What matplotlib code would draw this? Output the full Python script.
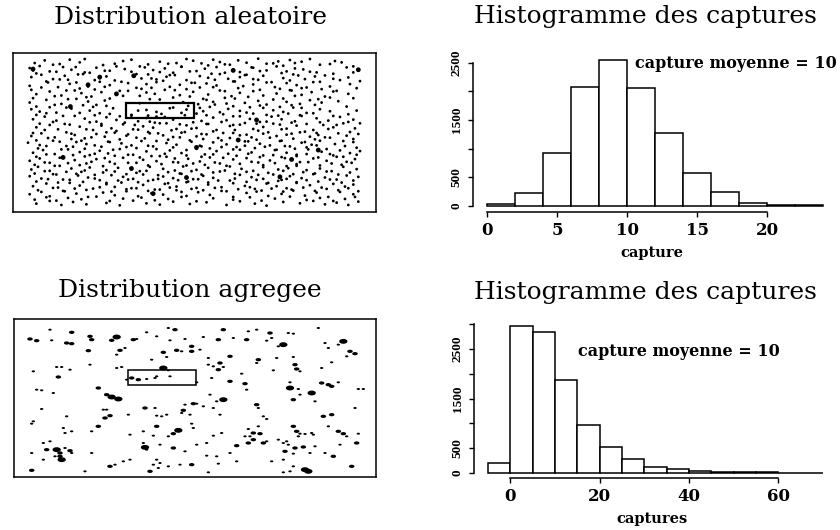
import numpy as np
import matplotlib
matplotlib.use("Agg")
import matplotlib.pyplot as plt
from matplotlib.patches import Rectangle
from matplotlib.path import Path

# ---------------------------------------------------------------------------
# Field maps: positions of individuals in a 1088 x 475 field (y measured down)
# ---------------------------------------------------------------------------
RANDOM_ROWS_X = [
    [105, 135, 160, 210, 240, 255, 345, 370, 395, 445, 480, 530, 560, 580, 605, 640, 660, 690, 715, 740, 775, 800, 835, 870, 885, 905, 930, 990, 1005, 1025],
    [120, 180, 228, 310, 420, 505, 545, 625, 675, 755, 820, 850, 960, 1060],
    [90, 100, 150, 190, 215, 255, 290, 315, 350, 375, 395, 435, 460, 495, 520, 545, 590, 615, 650, 700, 720, 760, 800, 830, 860, 885, 910, 950, 1040, 1075],
    [110, 170, 235, 270, 330, 410, 480, 510, 570, 635, 675, 740, 780, 845, 895, 930, 1000, 1060],
    [95, 125, 160, 195, 205, 250, 300, 320, 345, 400, 425, 445, 470, 500, 525, 560, 600, 625, 660, 685, 720, 735, 775, 790, 850, 880, 915, 945, 975, 1020, 1045],
    [140, 180, 230, 285, 365, 455, 490, 585, 645, 705, 760, 815, 870, 960, 1000, 1080],
    [90, 145, 175, 210, 265, 300, 330, 385, 410, 440, 470, 510, 540, 575, 600, 620, 650, 700, 730, 760, 800, 825, 860, 890, 905, 940, 990, 1050],
    [95, 125, 200, 240, 285, 315, 360, 425, 455, 525, 560, 640, 675, 715, 780, 840, 875, 920, 965, 1010, 1070],
    [110, 150, 185, 225, 245, 275, 305, 350, 385, 420, 440, 465, 495, 540, 580, 625, 660, 695, 720, 760, 790, 830, 870, 905, 935, 975, 1000, 1045],
    [100, 165, 205, 260, 330, 370, 480, 520, 570, 610, 675, 745, 850, 885, 955, 990, 1060],
    [90, 140, 185, 230, 265, 290, 315, 420, 450, 550, 595, 620, 640, 680, 705, 735, 775, 800, 820, 860, 900, 930, 965, 1015],
    [110, 165, 200, 250, 280, 320, 600, 645, 700, 750, 780, 840, 875, 905, 945, 1040],
    [95, 120, 150, 170, 215, 270, 300, 340, 440, 470, 520, 545, 560, 610, 630, 660, 685, 720, 760, 790, 820, 850, 880, 920, 960, 990, 1070],
    [415, 485, 510, 565],
    [110, 140, 190, 240, 285, 330, 360, 395, 445, 470, 590, 620, 670, 700, 740, 800, 835, 865, 900, 940, 1000, 1045],
    [100, 135, 170, 225, 255, 290, 320, 350, 395, 415, 440, 465, 495, 520, 555, 605, 640, 680, 720, 750, 780, 815, 845, 885, 905, 950, 985, 1020, 1060],
    [120, 160, 210, 270, 305, 375, 405, 450, 480, 540, 580, 625, 665, 700, 735, 770, 800, 840, 875, 920, 960, 1010, 1045, 1080],
    [110, 150, 175, 195, 240, 280, 305, 335, 370, 400, 430, 460, 500, 530, 560, 590, 620, 650, 690, 720, 760, 790, 820, 860, 890, 940, 970, 1000, 1030, 1065],
    [100, 135, 215, 260, 320, 350, 385, 415, 445, 475, 515, 545, 575, 605, 640, 670, 705, 740, 775, 805, 845, 875, 915, 950, 985, 1050],
    [95, 125, 165, 200, 225, 255, 290, 315, 345, 380, 410, 450, 490, 520, 555, 590, 620, 655, 700, 720, 755, 790, 830, 860, 900, 930, 955, 990, 1015, 1040, 1075],
    [110, 145, 180, 215, 245, 275, 330, 360, 435, 470, 505, 540, 575, 610, 665, 690, 735, 770, 810, 845, 880, 915, 945, 975, 1030, 1060],
    [85, 120, 160, 200, 230, 260, 305, 325, 365, 395, 425, 460, 500, 530, 570, 600, 640, 680, 710, 745, 780, 810, 840, 870, 905, 935, 960, 1005, 1035, 1060],
    [115, 140, 185, 220, 255, 285, 340, 380, 410, 445, 470, 520, 560, 605, 630, 665, 700, 735, 765, 795, 830, 855, 885, 920, 950, 980, 1070],
    [100, 130, 165, 205, 240, 270, 300, 325, 360, 400, 440, 480, 510, 545, 590, 615, 650, 685, 720, 755, 790, 825, 860, 890, 925, 965, 990, 1020, 1050, 1080],
    [110, 140, 180, 220, 255, 285, 315, 345, 385, 420, 455, 495, 525, 560, 605, 640, 670, 710, 745, 780, 820, 855, 890, 920, 955, 1000, 1030, 1070],
    [90, 120, 150, 190, 225, 260, 290, 330, 370, 410, 430, 470, 500, 535, 565, 600, 630, 660, 700, 740, 775, 810, 845, 875, 900, 940, 980, 1010, 1040, 1065],
    [105, 135, 165, 205, 240, 275, 310, 345, 385, 445, 485, 520, 550, 580, 615, 645, 680, 720, 755, 790, 825, 860, 890, 925, 960, 995, 1025, 1055],
    [95, 115, 150, 180, 215, 245, 270, 320, 355, 395, 420, 450, 490, 525, 560, 590, 625, 660, 690, 725, 760, 790, 835, 865, 890, 920, 960, 995, 1030, 1070],
    [105, 135, 170, 200, 230, 255, 285, 310, 345, 380, 410, 440, 475, 505, 540, 575, 605, 640, 675, 705, 740, 775, 805, 850, 880, 910, 945, 980, 1015, 1050],
    [90, 125, 160, 190, 235, 265, 300, 335, 370, 400, 430, 460, 490, 520, 545, 580, 610, 640, 690, 720, 755, 790, 820, 845, 870, 905, 940, 975, 1010, 1040, 1075],
    [110, 145, 175, 210, 250, 285, 320, 355, 385, 415, 445, 475, 505, 535, 565, 595, 625, 655, 705, 740, 770, 805, 835, 860, 890, 920, 955, 990, 1025, 1060],
    [100, 140, 175, 210, 240, 280, 320, 345, 365, 395, 430, 465, 495, 530, 560, 590, 625, 665, 700, 735, 765, 800, 830, 860, 890, 930, 965, 1000, 1035, 1060],
    [115, 160, 195, 225, 260, 300, 335, 380, 410, 445, 480, 510, 545, 575, 610, 645, 680, 715, 750, 785, 815, 850, 875, 910, 945, 980, 1015, 1045, 1075],
    [90, 125, 150, 190, 230, 265, 310, 345, 380, 415, 455, 490, 530, 560, 595, 630, 665, 700, 740, 770, 805, 845, 880, 915, 950, 985, 1020, 1060],
    [105, 140, 170, 205, 245, 290, 330, 370, 425, 465, 505, 545, 590, 640, 700, 750, 785, 825, 870, 920, 960, 1000, 1035, 1065],
    [110, 150, 185, 220, 260, 320, 360, 400, 440, 480, 520, 570, 620, 680, 720, 765, 800, 850, 900, 940, 975, 1010, 1045, 1075],
]
RANDOM_ROWS_Y = [
    [70, 62, 75, 60, 68, 58, 72, 64, 60, 74, 66, 70, 58, 63, 71, 60, 67, 75, 62, 69, 57, 72, 65, 61, 70, 66, 58, 73, 64, 68],
    [79, 73, 82, 76, 80, 72, 81, 77, 74, 83, 71, 78, 75, 80],
    [85, 92, 95, 82, 90, 98, 84, 93, 80, 88, 96, 83, 91, 86, 99, 81, 94, 87, 82, 90, 97, 84, 92, 80, 95, 86, 89, 98, 83, 91],
    [101, 96, 104, 99, 93, 103, 97, 106, 95, 102, 99, 105, 94, 100, 107, 96, 102, 98],
    [112, 105, 118, 108, 120, 103, 115, 110, 122, 107, 116, 104, 119, 111, 106, 121, 109, 114, 103, 117, 112, 106, 120, 108, 115, 104, 118, 110, 107, 121, 113],
    [125, 119, 128, 121, 126, 116, 123, 129, 120, 125, 118, 127, 122, 126, 117, 124],
    [138, 128, 142, 132, 140, 126, 136, 130, 144, 133, 127, 141, 135, 129, 143, 131, 137, 125, 139, 134, 128, 142, 130, 136, 145, 127, 140, 133],
    [150, 143, 152, 146, 149, 141, 153, 147, 144, 151, 148, 142, 154, 145, 150, 147, 152, 143, 148, 153, 145],
    [163, 155, 167, 152, 160, 170, 157, 165, 153, 168, 158, 162, 150, 166, 156, 164, 152, 169, 159, 154, 167, 161, 151, 165, 157, 170, 155, 162],
    [175, 169, 178, 172, 176, 168, 179, 173, 170, 177, 174, 171, 176, 168, 178, 173, 175],
    [188, 180, 192, 177, 185, 195, 182, 190, 178, 187, 193, 180, 186, 191, 176, 189, 183, 194, 179, 186, 192, 181, 188, 184],
    [200, 195, 203, 196, 201, 198, 204, 194, 199, 202, 197, 201, 196, 204, 195, 200],
    [208, 215, 202, 218, 206, 212, 220, 205, 210, 216, 203, 219, 209, 214, 201, 217, 207, 213, 221, 204, 211, 216, 203, 219, 208, 214, 212],
    [212, 222, 205, 198],
    [225, 220, 228, 219, 226, 222, 229, 225, 227, 230, 221, 226, 223, 229, 218, 225, 227, 221, 226, 220, 228, 223],
    [238, 230, 242, 228, 236, 245, 232, 240, 227, 244, 234, 248, 231, 239, 226, 243, 233, 241, 229, 237, 246, 230, 238, 244, 228, 235, 242, 231, 239],
    [251, 246, 254, 247, 252, 248, 255, 245, 250, 253, 247, 252, 246, 255, 249, 251, 245, 254, 248, 252, 247, 255, 246, 250],
    [262, 255, 268, 252, 260, 270, 257, 265, 253, 268, 259, 263, 250, 267, 256, 264, 252, 270, 258, 254, 267, 261, 251, 266, 257, 270, 255, 262, 250, 265],
    [279, 270, 281, 268, 277, 273, 283, 269, 276, 280, 271, 278, 266, 282, 274, 279, 270, 284, 272, 277, 268, 281, 275, 279, 267, 276],
    [288, 280, 292, 277, 285, 295, 282, 290, 278, 287, 293, 280, 286, 291, 276, 289, 283, 294, 279, 286, 292, 281, 288, 284, 277, 290, 285, 293, 280, 287, 282],
    [301, 294, 305, 297, 302, 292, 306, 298, 295, 303, 299, 292, 305, 297, 301, 294, 304, 299, 293, 302, 296, 306, 298, 292, 303, 297],
    [308, 315, 302, 318, 306, 312, 320, 305, 310, 316, 303, 319, 309, 314, 301, 317, 307, 313, 321, 304, 311, 316, 303, 319, 308, 314, 302, 312, 318, 306],
    [325, 318, 328, 320, 326, 316, 329, 321, 324, 317, 327, 322, 330, 319, 325, 321, 328, 317, 324, 320, 329, 318, 326, 322, 316, 327, 323],
    [338, 330, 342, 328, 336, 345, 332, 340, 327, 344, 334, 348, 331, 339, 326, 343, 333, 341, 329, 337, 346, 330, 338, 344, 328, 335, 342, 331, 339, 333],
    [350, 343, 353, 345, 349, 341, 354, 347, 344, 352, 348, 341, 355, 346, 350, 343, 353, 347, 341, 351, 345, 354, 348, 342, 352, 346, 350, 344],
    [362, 355, 368, 352, 360, 370, 357, 365, 353, 368, 359, 363, 350, 367, 356, 364, 352, 370, 358, 354, 367, 361, 351, 358, 366, 355, 362, 350, 365, 357],
    [374, 367, 377, 369, 375, 365, 378, 371, 368, 376, 372, 366, 379, 370, 374, 367, 377, 371, 365, 375, 369, 378, 372, 366, 376, 370, 374, 368],
    [388, 380, 392, 377, 385, 395, 382, 390, 383, 387, 393, 380, 386, 391, 376, 389, 383, 394, 379, 386, 392, 381, 388, 384, 377, 390, 385, 393, 380, 387],
    [400, 393, 403, 395, 401, 391, 404, 397, 394, 402, 398, 392, 405, 396, 400, 393, 403, 397, 391, 401, 395, 404, 398, 392, 402, 396, 400, 394, 403, 397],
    [408, 415, 402, 418, 406, 412, 420, 405, 410, 416, 403, 419, 409, 414, 401, 417, 407, 413, 421, 404, 411, 416, 403, 419, 408, 414, 402, 412, 418, 406, 410],
    [424, 417, 427, 419, 425, 415, 428, 421, 418, 426, 422, 416, 429, 420, 424, 417, 427, 421, 415, 425, 419, 428, 422, 416, 426, 420, 424, 418, 427, 421],
    [438, 430, 442, 428, 436, 445, 432, 440, 427, 444, 434, 448, 431, 439, 426, 443, 433, 441, 429, 437, 446, 430, 438, 444, 428, 435, 442, 431, 439, 433],
    [450, 443, 453, 445, 449, 441, 454, 447, 444, 452, 448, 442, 455, 446, 450, 443, 453, 447, 441, 451, 445, 454, 448, 442, 452, 446, 450, 444, 453],
    [462, 455, 468, 452, 460, 470, 457, 465, 453, 468, 459, 463, 450, 467, 456, 464, 452, 470, 458, 454, 467, 461, 451, 466, 457, 470, 455, 462],
    [478, 471, 481, 473, 477, 469, 482, 475, 472, 480, 476, 470, 483, 474, 478, 471, 481, 475, 469, 479, 473, 482, 476, 470],
    [490, 482, 494, 485, 492, 488, 495, 481, 489, 493, 484, 491, 486, 494, 483, 490, 496, 485, 489, 482, 492, 487, 494, 484],
]
# a few larger specks in the random field
RANDOM_SPECKS = [(100, 88), (300, 112), (265, 135), (402, 108), (700, 92), (190, 352),
                 (875, 358), (395, 385), (350, 162), (460, 460), (1075, 90), (590, 322),
                 (770, 240), (955, 330), (715, 300), (840, 410), (560, 412), (212, 200)]
RANDOM_FIELD_X = (40, 1128)
RANDOM_FIELD_Y = (40, 515)
RANDOM_QUADRAT = (380, 583, 188, 235)   # x0, x1, y0, y1

# aggregated individuals: (x, y, clump size class)
AGGREGATED = [
    (150, 150, 1), (90, 178, 2), (110, 183, 2), (155, 182, 1), (215, 158, 2), (200, 190, 2), (215, 192, 2), (270, 170, 2), (275, 180, 2), (265, 213, 2),
    (350, 172, 3), (335, 182, 2), (360, 212, 2), (375, 205, 1), (350, 225, 1), (400, 180, 2), (410, 178, 1), (440, 158, 1), (470, 170, 1), (505, 145, 1),
    (525, 150, 2), (510, 182, 1), (490, 218, 2), (530, 212, 2), (545, 215, 1), (575, 200, 2), (575, 215, 2), (600, 210, 1), (555, 178, 1), (610, 172, 1),
    (670, 150, 2), (655, 180, 2), (700, 175, 1), (740, 180, 2), (745, 155, 1), (770, 150, 1), (810, 160, 2), (815, 175, 1), (865, 160, 1), (880, 162, 1),
    (800, 183, 1), (850, 195, 3), (835, 200, 1), (955, 145, 1), (975, 190, 1), (1030, 185, 3), (1015, 195, 1), (985, 205, 1), (1050, 215, 2), (1065, 222, 2),
    (1040, 230, 1),
    (100, 275, 1), (170, 262, 1), (185, 262, 1), (210, 270, 1), (270, 255, 1), (175, 292, 2), (350, 265, 1), (365, 262, 1), (455, 240, 1), (500, 232, 1),
    (490, 265, 3), (505, 272, 1), (510, 290, 1), (625, 235, 1), (625, 255, 1), (660, 250, 2), (690, 230, 2), (640, 260, 1), (655, 270, 2), (670, 262, 1),
    (725, 282, 1), (775, 240, 2), (770, 250, 1), (820, 272, 1), (830, 235, 1), (880, 232, 1), (885, 255, 2), (890, 268, 2), (900, 275, 1), (965, 265, 1), (995, 248, 1),
    (395, 295, 2), (415, 300, 2), (440, 298, 1), (465, 295, 1), (470, 290, 1), (380, 300, 1),
    (110, 330, 1), (125, 332, 1), (160, 340, 1), (295, 325, 2), (320, 345, 2), (335, 352, 3), (355, 358, 3),
    (590, 308, 1), (635, 295, 1), (690, 305, 2), (735, 312, 2), (740, 330, 1),
    (870, 325, 3), (895, 328, 1), (935, 340, 3), (900, 345, 1), (870, 308, 1), (965, 310, 2), (985, 315, 2), (995, 320, 2), (1015, 308, 1), (1075, 328, 1), (1090, 328, 1), (880, 360, 2), (945, 365, 1),
    (670, 360, 3), (650, 365, 1), (630, 345, 1), (580, 372, 2), (555, 375, 1), (610, 380, 1),
    (125, 388, 1), (200, 410, 1), (100, 425, 1), (95, 432, 1), (310, 390, 1), (320, 390, 1), (330, 408, 2), (315, 415, 2),
    (385, 405, 1), (435, 385, 2), (465, 385, 1), (470, 408, 1), (485, 410, 1), (500, 405, 1), (550, 392, 2), (545, 400, 1), (570, 405, 1), (590, 372, 1),
    (640, 385, 1), (660, 405, 1), (770, 375, 2), (775, 385, 1), (790, 410, 1), (800, 418, 1), (970, 410, 2), (995, 405, 2), (1065, 385, 1),
    (295, 440, 2), (190, 445, 1), (470, 440, 2), (535, 452, 3), (575, 432, 1), (580, 445, 1),
    (130, 490, 1), (150, 485, 1), (195, 460, 1), (215, 455, 1), (275, 455, 1), (390, 465, 1), (430, 455, 1), (460, 468, 1), (505, 470, 1), (520, 462, 2),
    (640, 468, 1), (665, 460, 1), (745, 448, 1), (775, 440, 1), (760, 460, 2), (780, 462, 2), (735, 470, 1), (750, 470, 1),
    (880, 440, 2), (890, 455, 2), (900, 462, 1), (895, 470, 1), (915, 463, 1), (935, 460, 1), (940, 465, 1),
    (985, 440, 1), (1015, 455, 2), (1030, 462, 2), (1040, 470, 1), (1075, 462, 1),
    (140, 510, 2), (170, 510, 3), (180, 520, 2), (195, 505, 1), (210, 513, 2), (215, 520, 1),
    (430, 490, 1), (435, 503, 3), (440, 510, 1), (480, 495, 1), (520, 505, 2), (555, 515, 1), (590, 495, 1), (620, 490, 1),
    (710, 498, 2), (745, 490, 2), (760, 480, 2), (790, 490, 2), (800, 485, 1),
    (835, 480, 1), (850, 490, 1), (860, 485, 1), (865, 495, 1), (855, 515, 2), (885, 505, 2), (910, 502, 2), (945, 500, 1), (975, 520, 1), (1000, 530, 2), (1020, 495, 1), (1070, 490, 2),
    (95, 520, 1), (130, 540, 1), (165, 530, 1), (180, 530, 2), (185, 540, 3), (275, 520, 1), (370, 545, 1), (390, 540, 1),
    (470, 540, 1), (460, 555, 1), (480, 550, 1), (620, 528, 1), (650, 530, 1), (690, 520, 1), (850, 540, 1), (880, 522, 1), (930, 520, 1),
    (95, 572, 2), (255, 575, 1), (330, 560, 2), (345, 555, 1), (450, 575, 2), (475, 565, 1), (505, 560, 1), (540, 555, 1), (575, 555, 2), (625, 578, 1), (655, 552, 1), (710, 545, 1),
    (850, 578, 1), (870, 575, 1), (880, 560, 1), (915, 570, 3), (925, 575, 3), (1055, 560, 2), (815, 545, 1),
]
AGG_FIELD_X = (42, 1128)
AGG_FIELD_Y = (118, 592)
AGG_QUADRAT = (385, 587, 270, 316)

# ---------------------------------------------------------------------------
# Catch histograms
# ---------------------------------------------------------------------------
ALEA_EDGES = [0, 2, 4, 6, 8, 10, 12, 14, 16, 18, 20, 22, 24]
ALEA_COUNTS = [30, 227, 916, 2075, 2540, 2065, 1266, 566, 240, 47, 12, 4]
ALEA_XTICKS = [0, 5, 10, 15, 20]
ALEA_YTICKS = [0, 500, 1000, 1500, 2000, 2500]
ALEA_YLABELS = ["0", "500", "", "1500", "", "2500"]

AGR_EDGES = [-5, 0, 5, 10, 15, 20, 25, 30, 35, 40, 45, 50, 55, 60, 65, 70]
AGR_COUNTS = [190, 2970, 2840, 1876, 965, 526, 271, 121, 69, 35, 22, 15, 7, 4, 2]
AGR_XTICKS = [0, 20, 40, 60]
AGR_YTICKS = [0, 500, 1000, 1500, 2000, 2500, 3000]
AGR_YLABELS = ["0", "500", "", "1500", "", "2500", ""]

MEAN_NOTE = "capture moyenne = 10"

W, H = 840, 530
SERIF = "DejaVu Serif"

# flattened speck marker (clumps are wider than tall)
_t = np.linspace(0, 2 * np.pi, 25)
SPECK = Path(np.column_stack([0.85 * np.cos(_t), 0.5 * np.sin(_t)]), closed=True)


def rect(left, top, right, bottom):
    """Axes rectangle from pixel edges (origin at the top-left)."""
    return [left / W, 1 - bottom / H, (right - left) / W, (bottom - top) / H]


fig = plt.figure(figsize=(W / 100, H / 100), dpi=100)
fig.patch.set_facecolor("white")


def field_panel(ax, xs, ys, sizes, fx, fy, quadrat, qlw, marker):
    ax.scatter(xs, ys, s=sizes, c="black", marker=marker, linewidths=0)
    x0, x1, y0, y1 = quadrat
    ax.add_patch(Rectangle((x0, y0), x1 - x0, y1 - y0, fill=False,
                           edgecolor="black", linewidth=qlw))
    ax.set_xlim(*fx)
    ax.set_ylim(fy[1], fy[0])
    ax.set_xticks([])
    ax.set_yticks([])
    for sp in ax.spines.values():
        sp.set_linewidth(1.1)


# random field
ax1 = fig.add_axes(rect(13, 53, 376, 212))
rx = [x for row in RANDOM_ROWS_X for x in row]
ry = [y for row in RANDOM_ROWS_Y for y in row]
sx = [p[0] for p in RANDOM_SPECKS]
sy = [p[1] for p in RANDOM_SPECKS]
field_panel(ax1, rx + sx, ry + sy, [4] * len(rx) + [12] * len(sx),
            RANDOM_FIELD_X, RANDOM_FIELD_Y, RANDOM_QUADRAT, 1.6, "o")

# aggregated field
ax3 = fig.add_axes(rect(14, 319, 376, 477))
size_of = {1: 6, 2: 16, 3: 36}
field_panel(ax3, [p[0] for p in AGGREGATED], [p[1] for p in AGGREGATED],
            [size_of[p[2]] for p in AGGREGATED],
            AGG_FIELD_X, AGG_FIELD_Y, AGG_QUADRAT, 1.1, SPECK)


def hist_panel(ax, edges, counts, xticks, yticks, ylabels, xlim, ylim,
               xlabel, note_xy):
    ax.bar(edges[:-1], counts, width=np.diff(edges), align="edge",
           facecolor="white", edgecolor="black", linewidth=1.1)
    ax.set_xlim(*xlim)
    ax.set_ylim(*ylim)
    for side in ("top", "right"):
        ax.spines[side].set_visible(False)
    ax.spines["left"].set_bounds(yticks[0], yticks[-1])
    ax.spines["bottom"].set_bounds(xticks[0], xticks[-1])
    for side in ("left", "bottom"):
        ax.spines[side].set_linewidth(1.1)
    ax.set_xticks(xticks)
    ax.set_xticklabels([str(t) for t in xticks],
                       fontfamily=SERIF, fontweight="bold", fontsize=12)
    ax.set_yticks(yticks)
    ax.set_yticklabels(ylabels, fontfamily="Liberation Serif",
                       fontweight="bold", fontsize=9.5, rotation=90,
                       va="center")
    ax.tick_params(axis="both", direction="out", length=3.5, width=1,
                   pad=4)
    ax.set_xlabel(xlabel, fontfamily=SERIF, fontweight="bold",
                  fontsize=10.5, labelpad=5)
    ax.text(note_xy[0], note_xy[1], MEAN_NOTE, fontfamily=SERIF,
            fontweight="bold", fontsize=11.5, ha="left", va="center")
    ax.patch.set_alpha(0)


ax2 = fig.add_axes(rect(473, 55, 830, 212))
hist_panel(ax2, ALEA_EDGES, ALEA_COUNTS, ALEA_XTICKS, ALEA_YTICKS,
           ALEA_YLABELS, (-1.02, 24.5), (-110, 2635), "capture",
           (10.55, 2495))

ax4 = fig.add_axes(rect(474, 320, 830, 478))
hist_panel(ax4, AGR_EDGES, AGR_COUNTS, AGR_XTICKS, AGR_YTICKS,
           AGR_YLABELS, (-8.16, 71.6), (-107, 3091), "captures",
           (15.1, 2463))

# panel titles
title_kw = dict(fontfamily=SERIF, fontsize=18, ha="center", va="center")
fig.text(190 / W, 1 - 17 / H, "Distribution aleatoire", **title_kw)
fig.text(645 / W, 1 - 17 / H, "Histogramme des captures", **title_kw)
fig.text(190 / W, 1 - 291 / H, "Distribution agregee", **title_kw)
fig.text(645 / W, 1 - 292 / H, "Histogramme des captures", **title_kw)

fig.savefig("out.png", dpi=100, facecolor="white")
